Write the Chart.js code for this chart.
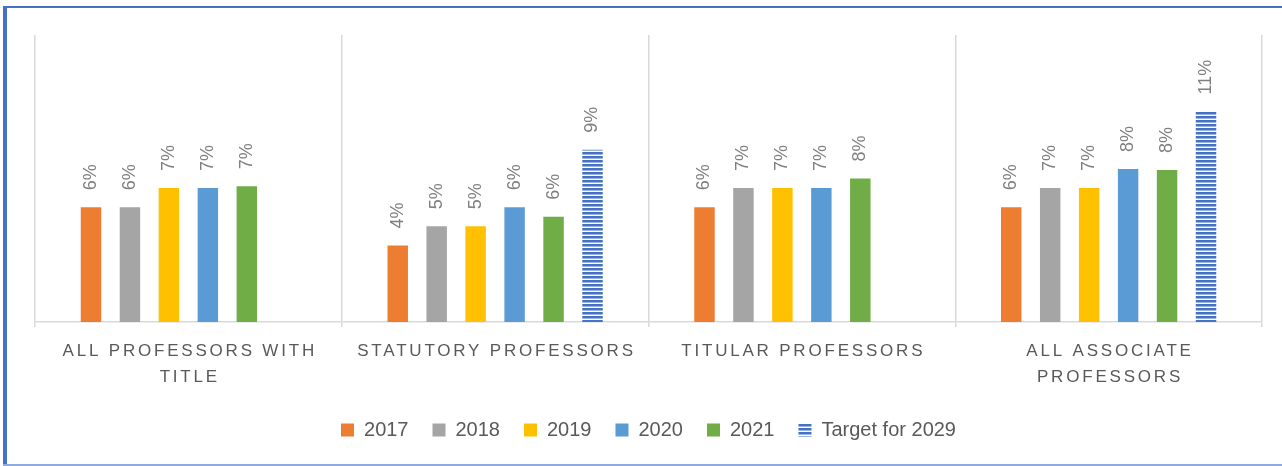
<!DOCTYPE html>
<html>
<head>
<meta charset="utf-8">
<script src="https://cdn.jsdelivr.net/npm/chart.js@4"></script>
<style>
  body { margin: 0; background: #fff; }
  #wrap { width: 1282px; height: 466px; }
</style>
</head>
<body>
<div id="wrap"><canvas id="profChart" width="1282" height="466"></canvas></div>
<script>
// categories (two lines where the original wraps)
var categories = [
    ['ALL PROFESSORS WITH', 'TITLE'],
    ['STATUTORY PROFESSORS'],
    ['TITULAR PROFESSORS'],
    ['ALL ASSOCIATE', 'PROFESSORS']
];
var seriesNames = ['2017', '2018', '2019', '2020', '2021', 'Target for 2029'];

// values in percent
var v2017 = [6.0, 4.0, 6.0, 6.0];
var v2018 = [6.0, 5.0, 7.0, 7.0];
var v2019 = [7.0, 5.0, 7.0, 7.0];
var v2020 = [7.0, 6.0, 7.0, 8.0];
var v2021 = [7.1, 5.5, 7.5, 7.95];
var vTarget = [null, 9.0, null, 11.0];

var colors = ['#ed7d31', '#a5a5a5', '#ffc000', '#5b9bd5', '#70ad47'];

// horizontal stripes for the target series
function stripes() {
    var c = document.createElement('canvas');
    c.width = 4; c.height = 4;
    var x = c.getContext('2d');
    x.fillStyle = '#ffffff';
    x.fillRect(0, 0, 4, 4);
    x.fillStyle = '#4472c4';
    x.fillRect(0, 0, 4, 2);
    x.fillStyle = '#9fb5e1';
    x.fillRect(0, 2, 4, 1);
    return x.createPattern(c, 'repeat');
}

var FONT = "'Liberation Sans', Arial, sans-serif";

// frame around the chart
var framePlugin = {
    id: 'frame',
    beforeDraw: function (chart) {
        var ctx = chart.ctx;
        ctx.save();
        ctx.fillStyle = '#ffffff';
        ctx.fillRect(0, 0, chart.width, chart.height);
        ctx.fillStyle = '#4472c4';
        ctx.fillRect(3, 6, 4, 460);
        ctx.fillRect(3, 6, chart.width - 3, 2);
        ctx.fillStyle = '#8faadc';
        ctx.fillRect(3, 464, chart.width - 3, 2);
        ctx.restore();
    }
};

// rotated value labels above bars
var valueLabels = {
    id: 'valueLabels',
    afterDatasetsDraw: function (chart) {
        var ctx = chart.ctx;
        ctx.save();
        ctx.font = '18px ' + FONT;
        ctx.fillStyle = '#7f7f7f';
        ctx.textAlign = 'left';
        ctx.textBaseline = 'middle';
        chart.data.datasets.forEach(function (ds, di) {
            var meta = chart.getDatasetMeta(di);
            meta.data.forEach(function (bar, i) {
                var v = ds.data[i];
                if (v === null || v === undefined) return;
                ctx.save();
                ctx.translate(bar.x, bar.y - 17);
                ctx.rotate(-Math.PI / 2);
                ctx.fillText(Math.round(v) + '%', 0, 0);
                ctx.restore();
            });
        });
        ctx.restore();
    }
};

// spaced category labels under the axis
var catLabels = {
    id: 'catLabels',
    afterDraw: function (chart) {
        var ctx = chart.ctx;
        var xs = chart.scales.x;
        var ls = 2.8;
        ctx.save();
        ctx.font = '17px ' + FONT;
        ctx.letterSpacing = ls + 'px';
        ctx.fillStyle = '#595959';
        ctx.textAlign = 'center';
        ctx.textBaseline = 'middle';
        categories.forEach(function (lines, i) {
            var cx = xs.getPixelForValue(i) + ls / 2;
            lines.forEach(function (t, j) {
                ctx.fillText(t, cx, xs.top + 29 + j * 26);
            });
        });
        ctx.restore();
    }
};

var allValues = [v2017, v2018, v2019, v2020, v2021, vTarget];
var datasets = allValues.map(function (vals, k) {
    return {
        label: seriesNames[k],
        data: vals,
        backgroundColor: k < 5 ? colors[k] : stripes(),
        borderWidth: 0,
        categoryPercentage: 0.762,
        barPercentage: 0.525
    };
});

var profChart = new Chart(document.getElementById('profChart').getContext('2d'), {
    type: 'bar',
    data: {
        labels: categories.map(function (c) { return c.join(' '); }),
        datasets: datasets
    },
    options: {
        responsive: false,
        animation: false,
        devicePixelRatio: 1,
        layout: { padding: { top: 35, left: 35, right: 20, bottom: 16 } },
        scales: {
            x: {
                grid: { color: '#d9d9d9', lineWidth: 1.5, tickLength: 5, offset: true },
                border: { color: '#d9d9d9', width: 1.5 },
                ticks: { display: false },
                afterFit: function (s) { s.height = 74; }
            },
            y: {
                display: false,
                min: 0,
                max: 15
            }
        },
        plugins: {
            legend: {
                position: 'bottom',
                labels: {
                    boxWidth: 13,
                    boxHeight: 13,
                    padding: 24,
                    color: '#595959',
                    font: { size: 20, family: FONT }
                }
            },
            tooltip: { enabled: false }
        }
    },
    plugins: [framePlugin, valueLabels, catLabels]
});
</script>
</body>
</html>
